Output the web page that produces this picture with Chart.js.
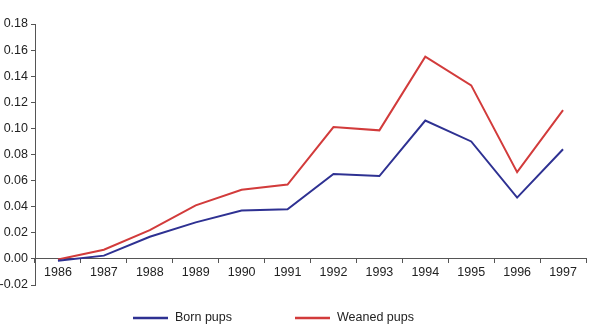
<!DOCTYPE html>
<html>
<head>
<meta charset="utf-8">
<script src="https://cdn.jsdelivr.net/npm/chart.js@4/dist/chart.umd.min.js"></script>
<style>
  html, body { margin: 0; padding: 0; background: #fff; }
  #wrap { width: 600px; height: 332px; }
</style>
</head>
<body>
<div id="wrap"><canvas id="myChart" width="600" height="332"></canvas></div>
<script>
const years = ['1986', '1987', '1988', '1989', '1990', '1991', '1992', '1993', '1994', '1995', '1996', '1997'];
const bornPups = [-0.0015, 0.0025, 0.017, 0.028, 0.037, 0.038, 0.065, 0.0635, 0.106, 0.090, 0.047, 0.084];
const weanedPups = [-0.0005, 0.007, 0.022, 0.041, 0.053, 0.057, 0.101, 0.0985, 0.155, 0.133, 0.0665, 0.114];
const seriesNames = ['Born pups', 'Weaned pups'];
const seriesColors = ['#2e3192', '#d23b3b'];

const axisColor = '#555555';
const fontSpec = { family: 'Liberation Sans, Arial, sans-serif', size: 12.5 };

// hand-drawn legend below the plot, line sample + label
const bottomLegend = {
  id: 'bottomLegend',
  afterDraw(chart) {
    const ctx = chart.ctx;
    const spots = [133, 295];
    const y = 318;
    ctx.save();
    ctx.font = '12.5px "Liberation Sans", Arial, sans-serif';
    ctx.textBaseline = 'middle';
    chart.data.datasets.forEach((set, i) => {
      const x = spots[i];
      ctx.strokeStyle = set.borderColor;
      ctx.lineWidth = 2.5;
      ctx.beginPath();
      ctx.moveTo(x, y);
      ctx.lineTo(x + 35, y);
      ctx.stroke();
      ctx.fillStyle = '#222';
      ctx.fillText(set.label, x + 42, y);
    });
    ctx.restore();
  }
};

function fmtTick(v) {
  const n = Math.abs(v) < 1e-9 ? 0 : Number(v);
  return n.toFixed(2);
}

function initChart(target) {
  const data = {
    labels: years,
    datasets: [{
      label: seriesNames[0],
      data: bornPups,
      borderColor: seriesColors[0],
      backgroundColor: seriesColors[0],
      borderWidth: 2,
      pointRadius: 0,
      tension: 0
    }, {
      label: seriesNames[1],
      data: weanedPups,
      borderColor: seriesColors[1],
      backgroundColor: seriesColors[1],
      borderWidth: 2,
      pointRadius: 0,
      tension: 0
    }]
  };

  const config = {
    type: 'line',
    data: data,
    options: {
      responsive: false,
      animation: false,
      layout: { padding: { top: 24, right: 14, bottom: 47, left: 0 } },
      plugins: {
        legend: { display: false },
        tooltip: { enabled: false }
      },
      scales: {
        x: {
          position: { y: 0 },
          offset: true,
          afterFit: (scale) => { scale.height = 0; },
          grid: { drawOnChartArea: false, offset: true, tickLength: 4, color: axisColor, lineWidth: 1 },
          border: { display: true, color: axisColor, width: 1 },
          ticks: { color: '#222', font: fontSpec, padding: 2, maxRotation: 0, autoSkip: false }
        },
        y: {
          min: -0.02,
          max: 0.18,
          afterFit: (scale) => { scale.width = 35; },
          grid: { drawOnChartArea: false, tickLength: 4, color: axisColor, lineWidth: 1 },
          border: { display: true, color: axisColor, width: 1 },
          ticks: {
            stepSize: 0.02,
            color: '#222',
            font: fontSpec,
            padding: 3,
            callback: fmtTick
          }
        }
      }
    },
    plugins: [bottomLegend]
  };

  return new Chart(target, config);
}

document.addEventListener('DOMContentLoaded', () => {
  initChart(document.querySelector('#myChart'));
});
</script>
</body>
</html>
